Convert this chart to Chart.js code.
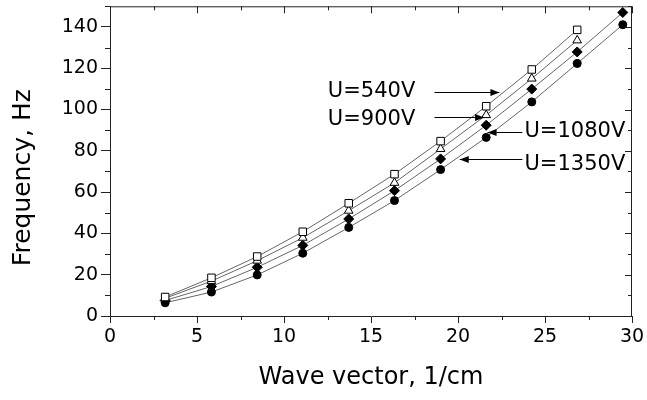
<!DOCTYPE html>
<html>
<head>
<meta charset="utf-8">
<script src="https://cdn.jsdelivr.net/npm/chart.js@4"></script>
<style>
  html, body { margin: 0; padding: 0; background: #fff; }
  #wrap { width: 647px; height: 400px; }
</style>
</head>
<body>
<div id="wrap"><canvas id="myChart" width="647" height="400"></canvas></div>
<script>
// wave vector values (1/cm)
const waveVector = [3.17, 5.83, 8.46, 11.08, 13.72, 16.35, 19.0, 21.62, 24.24, 26.85, 29.47];
// frequency (Hz) for each voltage
const freq540 = [9.2, 18.5, 28.8, 40.8, 54.6, 68.7, 84.7, 101.6, 119.4, 138.6];
const freq900 = [8.6, 16.9, 26.8, 37.9, 51.0, 64.5, 80.9, 97.3, 115.0, 133.5];
const freq1080 = [7.5, 14.3, 23.6, 34.2, 47.0, 60.7, 76.1, 92.4, 109.9, 127.9, 147.0];
const freq1350 = [6.4, 11.6, 19.9, 30.4, 42.9, 55.9, 70.9, 86.5, 103.7, 122.3, 141.1];
const seriesLabels = ['U=540V', 'U=900V', 'U=1080V', 'U=1350V'];
const xTicks = [0, 5, 10, 15, 20, 25, 30];
const yTicks = [0, 20, 40, 60, 80, 100, 120, 140];

const FONT = 'DejaVu Sans';

function toPoints(values) {
  return values.map((v, i) => ({ x: waveVector[i], y: v }));
}

function makeSet(label, values, style, fill) {
  return {
    label: label,
    data: toPoints(values),
    borderColor: '#666',
    borderWidth: 1,
    pointStyle: style,
    pointRadius: style === 'rect' ? 5.3 : (style === 'circle' ? 4 : 5),
    pointBackgroundColor: fill,
    pointBorderColor: '#000',
    pointBorderWidth: 1,
    tension: 0
  };
}

// labels with arrows, placed in data units: text pos, arrow start, arrow end
const notes = [
  { text: seriesLabels[0], tx: 12.52, ty: 108.8, x1: 18.65, y1: 108.5, x2: 22.38, y2: 108.5 },
  { text: seriesLabels[1], tx: 12.52, ty: 95.2, x1: 18.65, y1: 96.3, x2: 21.5, y2: 96.3 },
  { text: seriesLabels[2], tx: 23.82, ty: 89.5, x1: 23.7, y1: 89.3, x2: 21.7, y2: 89.3 },
  { text: seriesLabels[3], tx: 23.82, ty: 73.5, x1: 23.7, y1: 76.2, x2: 20.1, y2: 76.2 }
];

// frame, minor ticks, inward ticks on top/right, y title and notes
const framePlugin = {
  id: 'frame',
  afterDraw(chart) {
    const ctx = chart.ctx;
    const a = chart.chartArea;
    const xs = chart.scales.x;
    const ys = chart.scales.y;
    ctx.save();
    ctx.strokeStyle = '#222';
    ctx.lineWidth = 1;
    ctx.beginPath();
    ctx.moveTo(a.left, a.top + 0.5);
    ctx.lineTo(a.right, a.top + 0.5);
    ctx.moveTo(a.right - 0.5, a.top);
    ctx.lineTo(a.right - 0.5, a.bottom);
    for (let v = 0; v <= 30; v += 2.5) {
      const px = Math.round(xs.getPixelForValue(v)) + 0.5;
      const major = v % 5 === 0;
      if (!major) {
        ctx.moveTo(px, a.bottom);
        ctx.lineTo(px, a.bottom + 4);
      }
      ctx.moveTo(px, a.top);
      ctx.lineTo(px, a.top + (major ? 7 : 4));
    }
    for (let v = 0; v <= 150; v += 10) {
      const py = Math.round(ys.getPixelForValue(v)) + 0.5;
      const major = v % 20 === 0;
      if (!major) {
        ctx.moveTo(a.left, py);
        ctx.lineTo(a.left - 5, py);
      }
      ctx.moveTo(a.right, py);
      ctx.lineTo(a.right - (major ? 7 : 4), py);
    }
    ctx.stroke();

    // y axis title, sits a bit below the middle like the original
    ctx.fillStyle = '#000';
    ctx.save();
    ctx.translate(23, ys.getPixelForValue(67));
    ctx.rotate(-Math.PI / 2);
    ctx.font = '25px "' + FONT + '"';
    ctx.textAlign = 'center';
    ctx.textBaseline = 'middle';
    ctx.fillText('Frequency, Hz', 0, 0);
    ctx.restore();

    // annotations
    ctx.strokeStyle = '#000';
    ctx.font = '21px "' + FONT + '"';
    ctx.textBaseline = 'middle';
    ctx.textAlign = 'left';
    notes.forEach(n => {
      ctx.fillText(n.text, xs.getPixelForValue(n.tx), ys.getPixelForValue(n.ty));
      const x1 = xs.getPixelForValue(n.x1), y1 = Math.round(ys.getPixelForValue(n.y1)) + 0.5;
      const x2 = xs.getPixelForValue(n.x2), y2 = Math.round(ys.getPixelForValue(n.y2)) + 0.5;
      ctx.beginPath();
      ctx.moveTo(x1, y1);
      ctx.lineTo(x2, y2);
      ctx.stroke();
      const dir = x2 > x1 ? 1 : -1;
      ctx.beginPath();
      ctx.moveTo(x2, y2);
      ctx.lineTo(x2 - dir * 9, y2 - 3.5);
      ctx.lineTo(x2 - dir * 9, y2 + 3.5);
      ctx.closePath();
      ctx.fill();
    });
    ctx.restore();
  }
};

const config = {
  type: 'line',
  data: {
    datasets: [
      makeSet(seriesLabels[0], freq540, 'rect', '#fff'),
      makeSet(seriesLabels[1], freq900, 'triangle', '#fff'),
      makeSet(seriesLabels[2], freq1080, 'rectRot', '#000'),
      makeSet(seriesLabels[3], freq1350, 'circle', '#000')
    ]
  },
  options: {
    responsive: false,
    animation: false,
    layout: { padding: { left: 0, right: 15, top: 2, bottom: 0 } },
    plugins: { legend: { display: false }, tooltip: { enabled: false } },
    scales: {
      x: {
        type: 'linear',
        min: 0,
        max: 30,
        afterBuildTicks: s => { s.ticks = xTicks.map(v => ({ value: v })); },
        afterFit: s => { s.height = 84; s.paddingLeft = 0; s.paddingRight = 0; },
        grid: { drawOnChartArea: false, tickLength: 7, color: '#222' },
        border: { color: '#222' },
        ticks: { color: '#000', padding: 3, maxRotation: 0, font: { family: FONT, size: 19 } },
        title: { display: true, text: 'Wave vector, 1/cm', color: '#000',
          font: { family: FONT, size: 24 }, padding: { top: 0, bottom: 8 } }
      },
      y: {
        min: 0,
        max: 150,
        afterBuildTicks: s => { s.ticks = yTicks.map(v => ({ value: v })); },
        afterFit: s => { s.width = 110; s.paddingTop = 0; s.paddingBottom = 0; },
        grid: { drawOnChartArea: false, tickLength: 9, color: '#222' },
        border: { color: '#222' },
        ticks: { color: '#000', padding: 3, font: { family: FONT, size: 19 } },
        title: { display: false }
      }
    }
  },
  plugins: [framePlugin]
};

const myChart = new Chart(document.getElementById('myChart'), config);
</script>
</body>
</html>
